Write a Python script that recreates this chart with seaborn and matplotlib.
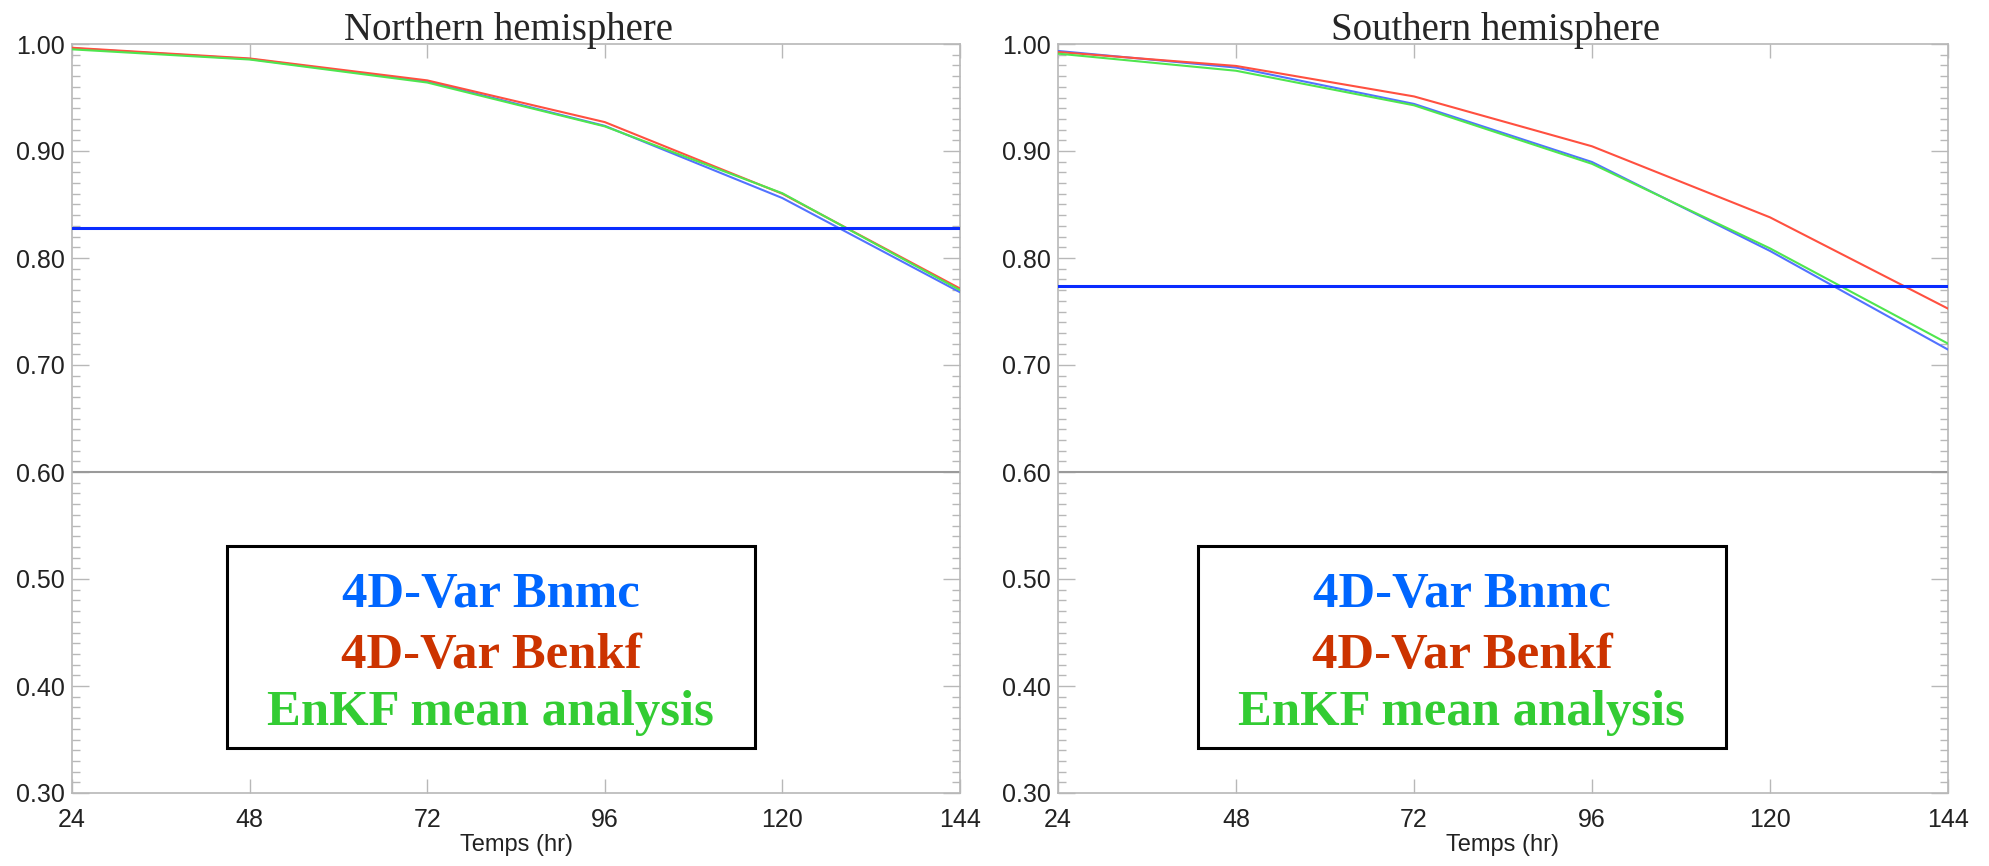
import numpy as np
import pandas as pd
import matplotlib
matplotlib.use("Agg")
import matplotlib.pyplot as plt
import seaborn as sns
from matplotlib.patches import Rectangle
from matplotlib.ticker import MultipleLocator, FixedLocator

# ---------------- data ----------------
lead_hours = [24, 48, 72, 96, 120, 144]
series_names = ["4D-Var Bnmc", "4D-Var Benkf", "EnKF mean analysis"]

nh_bnmc = [0.996, 0.986, 0.965, 0.9235, 0.856, 0.768]
nh_benkf = [0.9965, 0.9865, 0.966, 0.927, 0.860, 0.7715]
nh_enkf = [0.995, 0.9855, 0.964, 0.923, 0.8605, 0.770]
nh_reference = 0.828

sh_bnmc = [0.9935, 0.978, 0.944, 0.8897, 0.8066, 0.7144]
sh_benkf = [0.9925, 0.9795, 0.951, 0.9044, 0.838, 0.7527]
sh_enkf = [0.991, 0.975, 0.9427, 0.888, 0.809, 0.720]
sh_reference = 0.774

gray_level = 0.60
panel_titles = ["Northern hemisphere", "Southern hemisphere"]
x_label = "Temps (hr)"
x_ticks = [24, 48, 72, 96, 120, 144]
y_ticks = [0.30, 0.40, 0.50, 0.60, 0.70, 0.80, 0.90, 1.00]

# ---------------- style ----------------
sns.set_style("white")
plt.rcParams["font.family"] = ["Liberation Sans", "DejaVu Sans"]

line_palette = {"4D-Var Bnmc": "#5272ff", "4D-Var Benkf": "#ff5040", "EnKF mean analysis": "#4fe64f"}
text_colors = {"4D-Var Bnmc": "#0066ff", "4D-Var Benkf": "#cc3300", "EnKF mean analysis": "#33cc33"}
spine_gray = "#b8b8b8"


def long_frame(b, r, g):
    rows = []
    for name, vals in zip(series_names, [b, r, g]):
        for h, v in zip(lead_hours, vals):
            rows.append({"hour": h, "score": v, "series": name})
    return pd.DataFrame(rows)


W, H = 1989, 866
fig = plt.figure(figsize=(W / 100, H / 100), dpi=100)
ax_l = fig.add_axes([72 / W, (866 - 793) / H, 888 / W, 749 / H])
ax_r = fig.add_axes([1058 / W, (866 - 793) / H, 890 / W, 749 / H])

panels = [
    (ax_l, long_frame(nh_bnmc, nh_benkf, nh_enkf), nh_reference, (0.1745, 0.769)),
    (ax_r, long_frame(sh_bnmc, sh_benkf, sh_enkf), sh_reference, (0.157, 0.7506)),
]

for (ax, df, ref, (bx0, bx1)), title in zip(panels, panel_titles):
    ax.axhline(gray_level, color="#9a9a9a", lw=1.5, zorder=1)
    sns.lineplot(data=df, x="hour", y="score", hue="series", hue_order=series_names,
                 palette=line_palette, lw=1.5, ax=ax, legend=False, zorder=3)
    ax.axhline(ref, color="#0a2cff", lw=2.2, zorder=4)

    ax.set_xlim(24, 144)
    ax.set_ylim(0.30, 1.00)
    ax.xaxis.set_major_locator(FixedLocator(x_ticks))
    ax.yaxis.set_major_locator(FixedLocator(y_ticks))
    ax.yaxis.set_minor_locator(MultipleLocator(0.01))
    ax.set_xticklabels([str(t) for t in x_ticks])
    ax.set_yticklabels([f"{t:.2f}" for t in y_ticks])

    ax.tick_params(axis="x", which="major", direction="in", length=10, width=1.0,
                   color=spine_gray, top=True, bottom=True, labelsize=18, pad=11)
    ax.tick_params(axis="y", which="major", direction="in", length=12, width=1.0,
                   color=spine_gray, left=True, right=True, labelsize=18, pad=5)
    ax.tick_params(axis="y", which="minor", direction="in", length=6, width=1.0,
                   color=spine_gray, left=True, right=True)
    for lbl in ax.get_xticklabels() + ax.get_yticklabels():
        lbl.set_color("#222222")

    for sp in ax.spines.values():
        sp.set_visible(True)
        sp.set_color(spine_gray)
        sp.set_linewidth(1.2)

    ax.set_xlabel(x_label, fontsize=17, labelpad=1, color="#222222")
    ax.set_ylabel("")
    ax.set_title(title, fontsize=28, family=["Liberation Serif"], pad=3)
    ax.title.set_x(0.5 - 7 / 888)

    # legend-like box
    ax.add_patch(Rectangle((bx0, 0.060), bx1 - bx0, 0.270, transform=ax.transAxes,
                           facecolor="white", edgecolor="black", lw=2.2, zorder=6))
    cx = (bx0 + bx1) / 2
    for name, yb in zip(series_names, [0.2483, 0.1669, 0.0908]):
        ax.text(cx, yb, name, transform=ax.transAxes, ha="center", va="baseline",
                fontsize=36.5, fontweight="bold", family=["Liberation Serif"],
                color=text_colors[name], zorder=7)

fig.savefig("out.png", dpi=100)
